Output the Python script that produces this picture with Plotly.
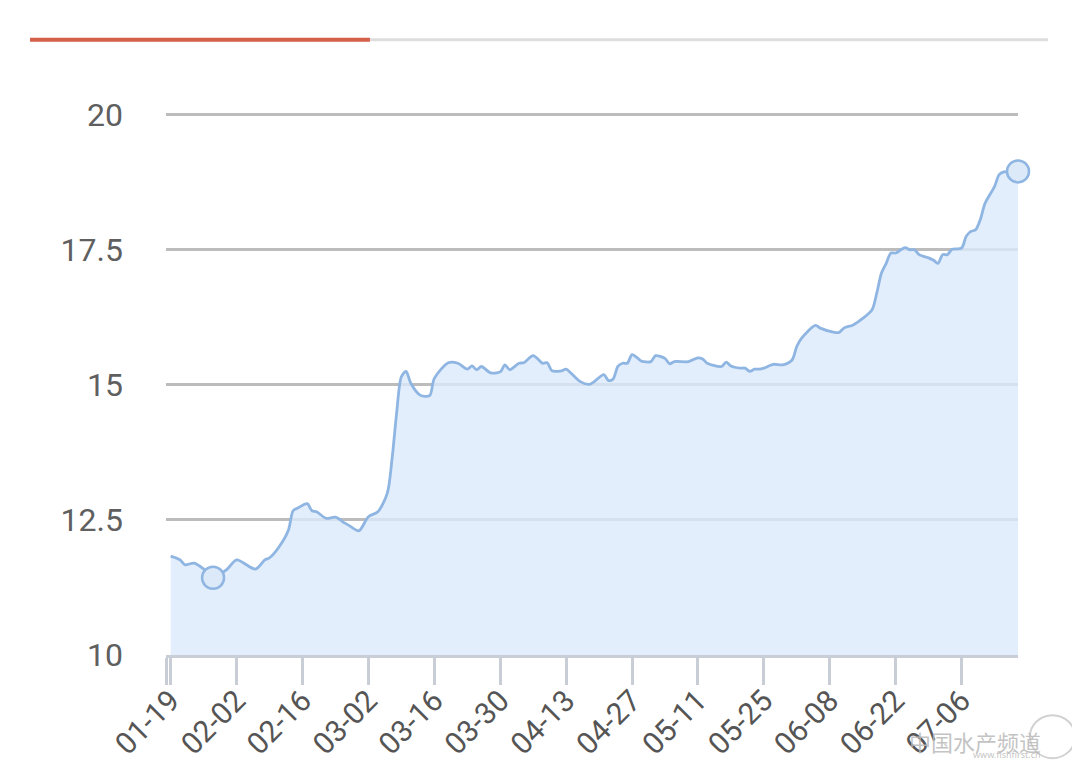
import plotly.graph_objects as go

dates = [
    "2018-01-19", "2018-01-21", "2018-01-22", "2018-01-24", "2018-01-26", "2018-01-28",
    "2018-01-31", "2018-02-02", "2018-02-06", "2018-02-08", "2018-02-09", "2018-02-11",
    "2018-02-13", "2018-02-14", "2018-02-15", "2018-02-17", "2018-02-18", "2018-02-19",
    "2018-02-21", "2018-02-23", "2018-02-25", "2018-02-26", "2018-02-28", "2018-03-02",
    "2018-03-04", "2018-03-06", "2018-03-07", "2018-03-08", "2018-03-09", "2018-03-10",
    "2018-03-11", "2018-03-13", "2018-03-15", "2018-03-16", "2018-03-19", "2018-03-21",
    "2018-03-23", "2018-03-24", "2018-03-25", "2018-03-26", "2018-03-28", "2018-03-30",
    "2018-03-31", "2018-04-01", "2018-04-03", "2018-04-04", "2018-04-06", "2018-04-08",
    "2018-04-09", "2018-04-10", "2018-04-12", "2018-04-13", "2018-04-14", "2018-04-16",
    "2018-04-18", "2018-04-19", "2018-04-21", "2018-04-22", "2018-04-23", "2018-04-24",
    "2018-04-25", "2018-04-26", "2018-04-27", "2018-04-28", "2018-04-29", "2018-05-01",
    "2018-05-02", "2018-05-04", "2018-05-05", "2018-05-06", "2018-05-09", "2018-05-11",
    "2018-05-12", "2018-05-13", "2018-05-16", "2018-05-17", "2018-05-18", "2018-05-20",
    "2018-05-21", "2018-05-22", "2018-05-23", "2018-05-24", "2018-05-25", "2018-05-27",
    "2018-05-29", "2018-05-31", "2018-06-01", "2018-06-02", "2018-06-05", "2018-06-06",
    "2018-06-09", "2018-06-10", "2018-06-11", "2018-06-13", "2018-06-15", "2018-06-17",
    "2018-06-18", "2018-06-19", "2018-06-20", "2018-06-21", "2018-06-22", "2018-06-24",
    "2018-06-25", "2018-06-26", "2018-06-27", "2018-06-29", "2018-06-30", "2018-07-01",
    "2018-07-02", "2018-07-03", "2018-07-04", "2018-07-06", "2018-07-07", "2018-07-08",
    "2018-07-09", "2018-07-10", "2018-07-11", "2018-07-13", "2018-07-14", "2018-07-15",
    "2018-07-18",
]
values = [
    11.83, 11.76, 11.67, 11.70, 11.59, 11.43,
    11.59, 11.76, 11.59, 11.76, 11.80, 12.00,
    12.31, 12.67, 12.72, 12.80, 12.67, 12.65,
    12.53, 12.55, 12.44, 12.39, 12.30, 12.56,
    12.65, 12.99, 13.61, 14.48, 15.15, 15.25,
    15.03, 14.81, 14.80, 15.12, 15.41, 15.40,
    15.29, 15.35, 15.28, 15.34, 15.22, 15.24,
    15.37, 15.28, 15.40, 15.41, 15.54, 15.40,
    15.41, 15.26, 15.26, 15.29, 15.22, 15.06,
    15.01, 15.06, 15.19, 15.08, 15.11, 15.34,
    15.40, 15.40, 15.56, 15.51, 15.44, 15.43,
    15.54, 15.49, 15.39, 15.43, 15.43, 15.50,
    15.48, 15.40, 15.34, 15.42, 15.35, 15.31,
    15.31, 15.25, 15.29, 15.29, 15.31, 15.38,
    15.37, 15.46, 15.71, 15.86, 16.10, 16.05,
    15.97, 15.97, 16.05, 16.11, 16.23, 16.39,
    16.70, 17.07, 17.25, 17.44, 17.44, 17.54,
    17.50, 17.50, 17.41, 17.35, 17.31, 17.25,
    17.41, 17.41, 17.51, 17.53, 17.75, 17.84,
    17.87, 18.06, 18.36, 18.67, 18.89, 18.94,
    18.95,
]

tick_dates = ["2018-01-18", "2018-01-19", "2018-02-02", "2018-02-16", "2018-03-02", "2018-03-16",
              "2018-03-30", "2018-04-13", "2018-04-27", "2018-05-11", "2018-05-25",
              "2018-06-08", "2018-06-22", "2018-07-06"]
tick_labels = ["", "01-19", "02-02", "02-16", "03-02", "03-16", "03-30", "04-13",
               "04-27", "05-11", "05-25", "06-08", "06-22", "07-06"]

y_ticks = [10, 12.5, 15, 17.5, 20]
y_labels = ["10", "12.5", "15", "17.5", "20"]

line_color = "#8fb5e2"
fill_color = "rgba(219,234,251,0.8)"

i_min = min(range(len(values)), key=lambda i: values[i])
i_last = len(values) - 1

fig = go.Figure()
fig.add_trace(go.Scatter(
    x=dates, y=values, mode="lines",
    line=dict(color=line_color, width=2.8, shape="spline", smoothing=0.8),
    fill="tozeroy", fillcolor=fill_color, hoverinfo="skip",
))
fig.add_trace(go.Scatter(
    x=[dates[i_min], dates[i_last]], y=[values[i_min], values[i_last]], mode="markers",
    marker=dict(size=22, color="#dbe9f8", line=dict(color=line_color, width=2.5)),
    hoverinfo="skip", cliponaxis=False,
))

fig.update_layout(
    width=1064, height=754,
    margin=dict(l=158, r=54, t=104, b=107),
    paper_bgcolor="white", plot_bgcolor="white",
    showlegend=False,
    font=dict(family="Roboto, sans-serif", color="#5f5f5f"),
    xaxis=dict(
        type="date", range=["2018-01-18", "2018-07-18"], automargin=False,
        tickmode="array", tickvals=tick_dates, ticktext=tick_labels,
        tickangle=-45, tickfont=dict(size=30, color="#555555"),
        ticks="outside", ticklen=27, tickwidth=2.5, tickcolor="#c8cdd6",
        ticklabelstandoff=-14,
        showline=True, linecolor="#c8cdd6", linewidth=3,
        showgrid=False, zeroline=False,
    ),
    yaxis=dict(
        range=[10, 20.05], automargin=False,
        tickmode="array", tickvals=y_ticks, ticktext=y_labels,
        tickfont=dict(size=32, color="#5f5f5f"),
        showgrid=True, gridcolor="#bcbcbc", gridwidth=2.5,
        showline=False, zeroline=False, ticks="", ticklabelstandoff=42,
    ),
    shapes=[
        dict(type="line", xref="paper", yref="paper", x0=-0.1596, x1=0.2394,
             y0=1.1332, y1=1.1332, line=dict(color="#d4604a", width=4)),
        dict(type="line", xref="paper", yref="paper", x0=0.2394, x1=1.0352,
             y0=1.1332, y1=1.1332, line=dict(color="#dddddd", width=3)),
        dict(type="circle", xref="paper", yref="paper", x0=1.014, x1=1.067,
             y0=-0.19, y1=-0.111, line=dict(color="rgba(190,190,190,0.7)", width=2)),
    ],
    annotations=[
        dict(text="中国水产频道", xref="paper", yref="paper", x=1.0293, y=-0.158,
             xanchor="right", yanchor="middle", showarrow=False,
             font=dict(family="Noto Sans CJK SC", size=22, color="rgba(185,185,185,0.85)")),
        dict(text="www.fishfirst.cn", xref="paper", yref="paper", x=1.0293, y=-0.183,
             xanchor="right", yanchor="middle", showarrow=False,
             font=dict(family="Noto Sans", size=9, color="rgba(185,185,185,0.85)")),
    ],
)

fig.write_html("out.html")
